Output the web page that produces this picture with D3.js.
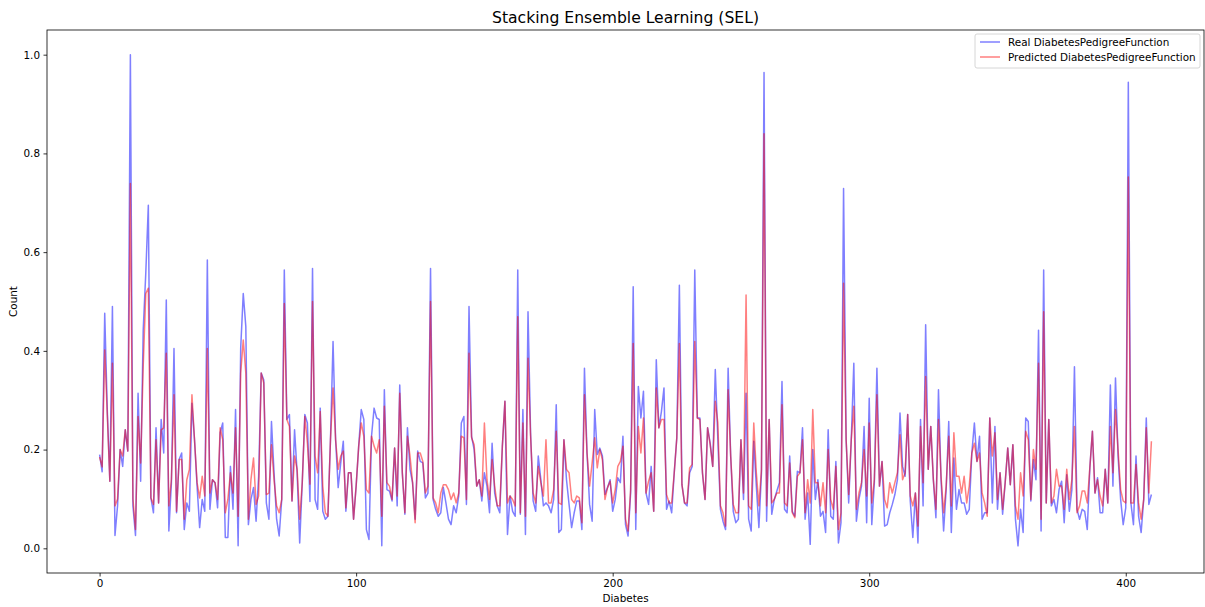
<!DOCTYPE html>
<html>
<head>
<meta charset="utf-8">
<script src="https://cdn.jsdelivr.net/npm/d3@7"></script>
<style>
  body { margin: 0; background: #fff; }
  text { font-family: "DejaVu Sans", sans-serif; }
</style>
</head>
<body>
<script>
// values, index 0..410
let realValues = [
  0.190,0.155,0.476,0.280,0.136,0.490,0.026,0.086,0.200,0.166,
  0.240,0.197,1.000,0.086,0.026,0.314,0.136,0.442,0.557,0.695,
  0.102,0.072,0.244,0.092,0.261,0.193,0.503,0.035,0.133,0.405,
  0.072,0.180,0.193,0.038,0.092,0.075,0.294,0.220,0.126,0.042,
  0.099,0.075,0.584,0.079,0.139,0.133,0.082,0.234,0.254,0.022,
  0.022,0.166,0.079,0.281,0.005,0.405,0.516,0.449,0.048,0.099,
  0.123,0.055,0.146,0.355,0.341,0.092,0.059,0.257,0.153,0.059,
  0.025,0.099,0.564,0.261,0.271,0.096,0.240,0.153,0.011,0.133,
  0.271,0.254,0.095,0.567,0.099,0.079,0.284,0.075,0.059,0.065,
  0.220,0.419,0.220,0.123,0.173,0.217,0.075,0.153,0.153,0.059,
  0.126,0.207,0.281,0.261,0.038,0.018,0.227,0.284,0.264,0.261,
  0.005,0.321,0.119,0.116,0.096,0.203,0.086,0.331,0.153,0.069,
  0.244,0.160,0.133,0.059,0.197,0.176,0.173,0.102,0.112,0.567,
  0.099,0.079,0.065,0.072,0.123,0.092,0.059,0.048,0.086,0.072,
  0.106,0.254,0.267,0.089,0.490,0.227,0.200,0.126,0.139,0.096,
  0.153,0.126,0.072,0.213,0.112,0.086,0.072,0.207,0.298,0.028,
  0.106,0.075,0.065,0.564,0.069,0.281,0.028,0.479,0.234,0.096,
  0.075,0.187,0.139,0.086,0.092,0.086,0.072,0.099,0.291,0.032,
  0.038,0.220,0.139,0.089,0.042,0.072,0.096,0.096,0.038,0.365,
  0.193,0.089,0.055,0.281,0.190,0.203,0.187,0.109,0.123,0.139,
  0.075,0.099,0.143,0.133,0.227,0.048,0.025,0.112,0.530,0.038,
  0.328,0.264,0.318,0.112,0.089,0.166,0.075,0.382,0.244,0.277,
  0.325,0.079,0.096,0.072,0.153,0.224,0.533,0.129,0.092,0.086,
  0.153,0.166,0.564,0.264,0.264,0.153,0.099,0.244,0.213,0.166,
  0.362,0.220,0.079,0.055,0.038,0.365,0.187,0.075,0.052,0.059,
  0.220,0.099,0.314,0.059,0.035,0.217,0.126,0.042,0.153,0.964,
  0.055,0.261,0.069,0.099,0.116,0.133,0.338,0.079,0.072,0.187,
  0.075,0.065,0.156,0.153,0.244,0.059,0.112,0.008,0.200,0.099,
  0.139,0.065,0.075,0.032,0.240,0.065,0.059,0.176,0.011,0.052,
  0.729,0.220,0.092,0.220,0.375,0.055,0.099,0.126,0.247,0.052,
  0.304,0.048,0.133,0.365,0.126,0.176,0.045,0.048,0.072,0.089,
  0.109,0.139,0.274,0.166,0.146,0.271,0.096,0.022,0.112,0.011,
  0.261,0.086,0.453,0.160,0.247,0.139,0.062,0.321,0.139,0.035,
  0.119,0.257,0.032,0.183,0.079,0.119,0.092,0.092,0.069,0.079,
  0.193,0.254,0.176,0.227,0.059,0.072,0.072,0.264,0.092,0.247,
  0.079,0.153,0.069,0.133,0.203,0.129,0.210,0.059,0.005,0.079,
  0.032,0.264,0.257,0.096,0.180,0.139,0.442,0.035,0.564,0.092,
  0.261,0.086,0.099,0.072,0.119,0.136,0.052,0.149,0.075,0.119,
  0.368,0.079,0.059,0.079,0.075,0.038,0.163,0.237,0.112,0.143,
  0.072,0.072,0.160,0.092,0.331,0.126,0.345,0.187,0.099,0.048,
  0.082,0.944,0.092,0.048,0.187,0.065,0.032,0.099,0.264,0.089,
  0.109
];

let predValues = [
  0.185,0.165,0.402,0.270,0.136,0.375,0.086,0.100,0.200,0.187,
  0.240,0.197,0.739,0.100,0.038,0.267,0.173,0.368,0.516,0.527,
  0.102,0.089,0.220,0.092,0.240,0.244,0.395,0.086,0.140,0.311,
  0.075,0.180,0.180,0.059,0.139,0.160,0.311,0.220,0.133,0.102,
  0.146,0.106,0.405,0.112,0.139,0.133,0.099,0.244,0.220,0.072,
  0.099,0.153,0.112,0.244,0.065,0.355,0.422,0.355,0.059,0.139,
  0.183,0.089,0.106,0.355,0.335,0.109,0.112,0.210,0.139,0.086,
  0.072,0.099,0.496,0.261,0.247,0.096,0.187,0.160,0.059,0.133,
  0.267,0.213,0.130,0.500,0.187,0.153,0.277,0.126,0.072,0.065,
  0.220,0.325,0.220,0.160,0.187,0.197,0.082,0.153,0.153,0.059,
  0.126,0.207,0.254,0.227,0.119,0.112,0.227,0.207,0.193,0.220,
  0.065,0.288,0.133,0.126,0.099,0.203,0.106,0.314,0.153,0.072,
  0.227,0.187,0.133,0.052,0.193,0.193,0.176,0.112,0.126,0.500,
  0.102,0.092,0.072,0.112,0.129,0.129,0.119,0.099,0.112,0.092,
  0.112,0.227,0.224,0.099,0.395,0.224,0.210,0.126,0.139,0.106,
  0.254,0.139,0.099,0.180,0.126,0.086,0.086,0.207,0.298,0.092,
  0.106,0.099,0.086,0.469,0.072,0.254,0.065,0.385,0.227,0.112,
  0.092,0.166,0.133,0.106,0.220,0.092,0.092,0.119,0.237,0.092,
  0.089,0.220,0.160,0.153,0.099,0.092,0.106,0.102,0.052,0.311,
  0.193,0.126,0.173,0.224,0.163,0.200,0.180,0.099,0.123,0.136,
  0.092,0.119,0.166,0.176,0.207,0.059,0.035,0.119,0.415,0.072,
  0.247,0.193,0.264,0.112,0.136,0.153,0.075,0.325,0.244,0.261,
  0.261,0.109,0.092,0.092,0.153,0.224,0.415,0.129,0.092,0.092,
  0.163,0.170,0.419,0.264,0.261,0.153,0.099,0.244,0.210,0.166,
  0.298,0.254,0.086,0.072,0.045,0.321,0.187,0.089,0.072,0.072,
  0.220,0.112,0.513,0.086,0.079,0.254,0.153,0.086,0.160,0.840,
  0.086,0.261,0.092,0.099,0.112,0.112,0.291,0.092,0.086,0.173,
  0.072,0.062,0.146,0.153,0.220,0.072,0.139,0.092,0.281,0.133,
  0.133,0.086,0.133,0.072,0.200,0.099,0.079,0.166,0.038,0.072,
  0.537,0.220,0.109,0.220,0.288,0.079,0.112,0.133,0.200,0.106,
  0.254,0.092,0.139,0.311,0.126,0.176,0.099,0.082,0.133,0.112,
  0.133,0.153,0.230,0.139,0.153,0.271,0.106,0.086,0.112,0.045,
  0.247,0.133,0.348,0.160,0.247,0.139,0.079,0.261,0.146,0.072,
  0.126,0.227,0.086,0.234,0.146,0.146,0.112,0.146,0.092,0.126,
  0.193,0.213,0.176,0.193,0.112,0.092,0.065,0.264,0.187,0.234,
  0.099,0.153,0.079,0.133,0.203,0.129,0.210,0.086,0.059,0.153,
  0.106,0.237,0.220,0.099,0.200,0.160,0.375,0.059,0.479,0.092,
  0.261,0.092,0.106,0.160,0.126,0.126,0.079,0.160,0.099,0.139,
  0.247,0.072,0.086,0.116,0.116,0.092,0.163,0.237,0.112,0.139,
  0.106,0.086,0.160,0.092,0.247,0.153,0.281,0.200,0.119,0.096,
  0.092,0.752,0.092,0.092,0.170,0.092,0.059,0.099,0.244,0.112,
  0.217
];

let xTicks = [0, 100, 200, 300, 400];
let yTicks = [0.0, 0.2, 0.4, 0.6, 0.8, 1.0];
let seriesNames = ["Real DiabetesPedigreeFunction", "Predicted DiabetesPedigreeFunction"];
let seriesColors = ["blue", "red"];

let w = 1205;
let h = 607;
let mLeft = 47, mRight = 1204, mTop = 30, mBottom = 573;

let n = realValues.length;
let pad = (n - 1) * 0.05;

let xScale = d3.scaleLinear()
  .domain([-pad, n - 1 + pad])
  .range([mLeft, mRight]);

let yScale = d3.scaleLinear()
  .domain([-0.05, 1.05])
  .range([mBottom, mTop]);

const svg = d3.select("body")
  .append("svg")
  .attr("width", w)
  .attr("height", h);

let line = d3.line()
  .x(function(d, i){ return xScale(i); })
  .y(function(d){ return yScale(d); });

let plot = svg.append("g");

[realValues, predValues].forEach(function(vals, k){
  plot.append("path")
    .datum(vals)
    .attr("fill", "none")
    .attr("stroke", seriesColors[k])
    .attr("stroke-opacity", 0.5)
    .attr("stroke-width", 1.5)
    .attr("stroke-linejoin", "round")
    .attr("d", line);
});

// frame
svg.append("rect")
  .attr("x", mLeft)
  .attr("y", mTop)
  .attr("width", mRight - mLeft)
  .attr("height", mBottom - mTop)
  .attr("fill", "none")
  .attr("stroke", "#000")
  .attr("stroke-width", 0.8);

let xAxis = svg.append("g")
  .attr("transform", "translate(0," + mBottom + ")")
  .call(d3.axisBottom(xScale).tickValues(xTicks).tickSize(3.5).tickPadding(3.5).tickFormat(d3.format("d")));

let yAxis = svg.append("g")
  .attr("transform", "translate(" + mLeft + ",0)")
  .call(d3.axisLeft(yScale).tickValues(yTicks).tickSize(3.5).tickPadding(3.5).tickFormat(d3.format(".1f")));

[xAxis, yAxis].forEach(function(a){
  a.select(".domain").remove();
  a.selectAll("line").attr("stroke", "#000").attr("stroke-width", 0.8);
  a.selectAll("text")
    .attr("fill", "#000")
    .style("font-family", "DejaVu Sans, sans-serif")
    .style("font-size", "10.4px");
});

svg.append("text")
  .attr("x", (mLeft + mRight) / 2)
  .attr("y", 23)
  .attr("text-anchor", "middle")
  .style("font-size", "15.6px")
  .text("Stacking Ensemble Learning (SEL)");

svg.append("text")
  .attr("x", (mLeft + mRight) / 2)
  .attr("y", 602)
  .attr("text-anchor", "middle")
  .style("font-size", "10.4px")
  .text("Diabetes");

svg.append("text")
  .attr("transform", "translate(17," + ((mTop + mBottom) / 2) + ") rotate(-90)")
  .attr("text-anchor", "middle")
  .style("font-size", "10.4px")
  .text("Count");

// legend
let legend = svg.append("g");
legend.append("rect")
  .attr("x", 975)
  .attr("y", 34)
  .attr("width", 225)
  .attr("height", 34)
  .attr("rx", 2)
  .attr("fill", "#fff")
  .attr("fill-opacity", 0.8)
  .attr("stroke", "#ccc")
  .attr("stroke-width", 0.8);

seriesNames.forEach(function(name, k){
  let ly = 42 + k * 15;
  legend.append("line")
    .attr("x1", 980)
    .attr("x2", 1000)
    .attr("y1", ly)
    .attr("y2", ly)
    .attr("stroke", seriesColors[k])
    .attr("stroke-opacity", 0.5)
    .attr("stroke-width", 1.5);
  legend.append("text")
    .attr("x", 1008)
    .attr("y", ly + 4)
    .style("font-size", "10.4px")
    .text(name);
});
</script>
</body>
</html>
